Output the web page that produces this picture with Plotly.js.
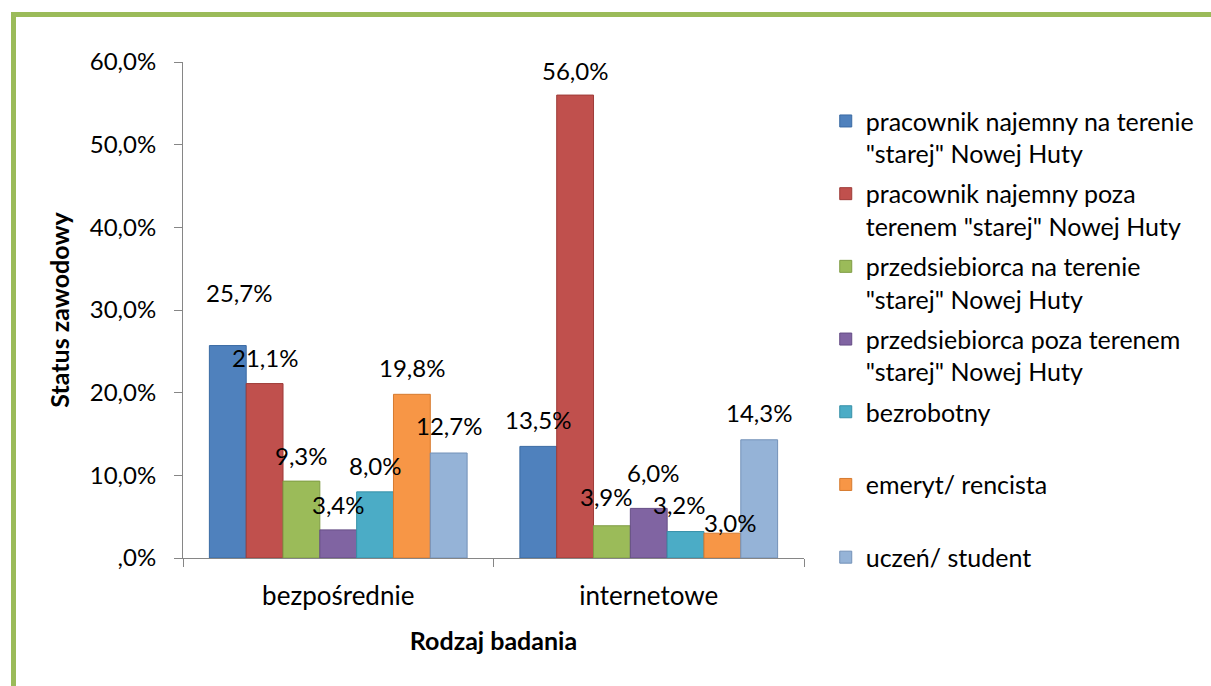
<!DOCTYPE html>
<html>
<head>
<meta charset="utf-8">
<script src="https://cdn.plot.ly/plotly-3.0.1.min.js"></script>
<style>
  html, body { margin: 0; padding: 0; background: #fff; }
  #frame { position: absolute; left: 11px; top: 12px; width: 1300px; height: 800px;
           border-left: 5px solid #9bbb59; border-top: 5px solid #9bbb59; pointer-events: none; z-index: 5; }
  #chart { position: absolute; left: 0; top: 0; width: 1211px; height: 686px; }
</style>
</head>
<body>
<div id="chart"></div>
<div id="frame"></div>
<script>
const categories = ["bezpośrednie", "internetowe"];
const seriesNames = [
  "pracownik najemny na terenie<br>\"starej\" Nowej Huty",
  "pracownik najemny poza<br>terenem \"starej\" Nowej Huty",
  "przedsiebiorca na terenie<br>\"starej\" Nowej Huty",
  "przedsiebiorca poza terenem<br>\"starej\" Nowej Huty",
  "bezrobotny<br>\u00a0",
  "emeryt/ rencista<br>\u00a0",
  "uczeń/ student<br>\u00a0"
];
const seriesValues = [
  [25.7, 13.5],
  [21.1, 56.0],
  [9.3, 3.9],
  [3.4, 6.0],
  [8.0, 3.2],
  [19.8, 3.0],
  [12.7, 14.3]
];
const seriesColors = ["#4f81bd", "#c0504d", "#9bbb59", "#8064a2", "#4bacc6", "#f79646", "#95b3d7"];
const lineColors = ["#3a6aa3", "#9e3b38", "#7f9c44", "#654d86", "#3690a8", "#d67a2f", "#7391b8"];
const yTickVals = [0, 10, 20, 30, 40, 50, 60];
const yTickText = [",0%", "10,0%", "20,0%", "30,0%", "40,0%", "50,0%", "60,0%"];
// label nudges [series][category] in px, as placed in the original chart
const labelShiftY = [[53, 27], [26, 25], [26, 29], [25, 36], [26, 27], [27, 11], [28, 27]];
const labelShiftX = [[11, 0], [0, 0], [0, -5], [0, 5], [0, -6], [0, 8], [0, 0]];

const fmt = v => v.toFixed(1).replace('.', ',') + '%';
const FONT = 'Lato, "Open Sans", sans-serif';
const BARGAP = 0.17;
const nSeries = seriesNames.length;

const traces = seriesNames.map((name, i) => ({
  type: 'bar',
  name: name,
  x: categories,
  y: seriesValues[i],
  marker: { color: seriesColors[i], line: { color: lineColors[i], width: 1 } },
  legendgroup: 'g' + i,
  hoverinfo: 'none'
}));

const barW = (1 - BARGAP) / nSeries;
const annotations = [];
seriesValues.forEach((vals, i) => {
  vals.forEach((v, c) => {
    annotations.push({
      x: c - (1 - BARGAP) / 2 + (i + 0.5) * barW,
      y: v, xref: 'x', yref: 'y',
      text: fmt(v), showarrow: false,
      xanchor: 'center', yanchor: 'middle',
      yshift: labelShiftY[i][c], xshift: labelShiftX[i][c],
      font: { family: FONT, size: 24, color: '#000' }
    });
  });
});

const layout = {
  width: 1211, height: 686,
  margin: { l: 183, r: 401, t: 62, b: 128 },
  paper_bgcolor: '#fff', plot_bgcolor: '#fff',
  barmode: 'group', bargap: BARGAP, bargroupgap: 0,
  font: { family: FONT, size: 24, color: '#000' },
  showlegend: true,
  legend: {
    x: 1.035, y: 0.927, xanchor: 'left', yanchor: 'top',
    valign: 'top', tracegroupgap: 4.7, itemwidth: 30,
    font: { family: FONT, size: 25, color: '#000' },
    bgcolor: 'rgba(0,0,0,0)'
  },
  annotations: annotations,
  xaxis: {
    type: 'category', range: [-0.5, 1.5],
    showline: true, linecolor: '#868686', linewidth: 1,
    ticks: 'outside', ticklen: 8, tickcolor: '#868686', tickson: 'boundaries',
    ticklabelstandoff: 15,
    showgrid: false, zeroline: false,
    tickfont: { family: FONT, size: 26 },
    title: { text: '<b>Rodzaj badania</b>', font: { family: FONT, size: 25 }, standoff: 22 }
  },
  yaxis: {
    range: [0, 60], tickvals: yTickVals, ticktext: yTickText,
    showline: true, linecolor: '#868686', linewidth: 1,
    ticks: 'outside', ticklen: 8, tickcolor: '#868686',
    ticklabelstandoff: 13,
    showgrid: false, zeroline: false,
    tickfont: { family: FONT, size: 24 },
    title: { text: '<b>Status zawodowy</b>', font: { family: FONT, size: 25 }, standoff: 12 }
  }
};

Plotly.newPlot('chart', traces, layout, { displayModeBar: false, staticPlot: true });
</script>
</body>
</html>
